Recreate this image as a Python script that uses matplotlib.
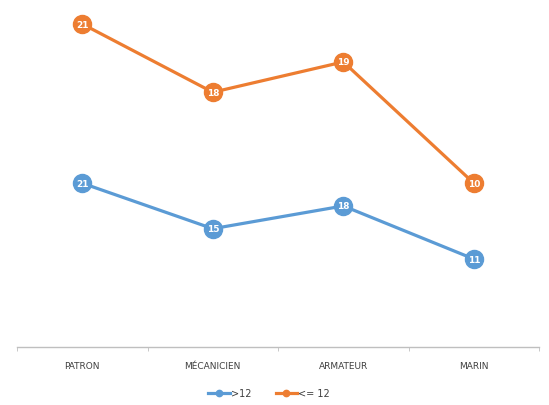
import matplotlib
matplotlib.use("Agg")
import matplotlib.pyplot as plt
import numpy as np

# data
categories = ["PATRON", "MÉCANICIEN", "ARMATEUR", "MARIN"]
over_12 = [21, 15, 18, 11]
under_12 = [21, 18, 19, 10]
series_names = [">12", "<= 12"]

BLUE = "#5B9BD5"
ORANGE = "#ED7D31"

fig = plt.figure(figsize=(5.49, 4.06), dpi=100)
ax = fig.add_axes([0.031, 0.143, 0.951, 0.857])

x = np.arange(len(categories))
# stacked line chart: second series sits on top of the first
stacked = np.array(over_12) + np.array(under_12)

for values, labels, color, name in [(over_12, over_12, BLUE, series_names[0]),
                                    (stacked, under_12, ORANGE, series_names[1])]:
    ax.plot(x, values, color=color, linewidth=2.3, marker="o", markersize=13,
            markeredgecolor=color, label=name)
    for xi, yi, lab in zip(x, values, labels):
        ax.text(xi, yi, str(lab), color="white", fontsize=6.5, fontweight="bold",
                ha="center", va="center")

ax.set_xlim(-0.5, len(categories) - 0.5)
ax.set_ylim(-0.6, 45.3)

# only the bottom axis line stays
for side in ["top", "right", "left"]:
    ax.spines[side].set_visible(False)
ax.spines["bottom"].set_color("#BFBFBF")
ax.spines["bottom"].set_linewidth(1)
ax.set_yticks([])

ax.set_xticks(x)
ax.set_xticklabels(categories, fontsize=6.5, color="#404040")
ax.tick_params(axis="x", length=0, pad=10)
ax.set_xticks(np.arange(-0.5, len(categories)), minor=True)
ax.tick_params(axis="x", which="minor", length=3, color="#BFBFBF", direction="out")

fig.legend(loc="lower center", bbox_to_anchor=(0.49, -0.005), ncol=2, frameon=False,
           fontsize=7, handlelength=2.2, handletextpad=0.1, columnspacing=2.5,
           markerscale=0.35, labelcolor="#404040")

fig.savefig("out.png", dpi=100)
